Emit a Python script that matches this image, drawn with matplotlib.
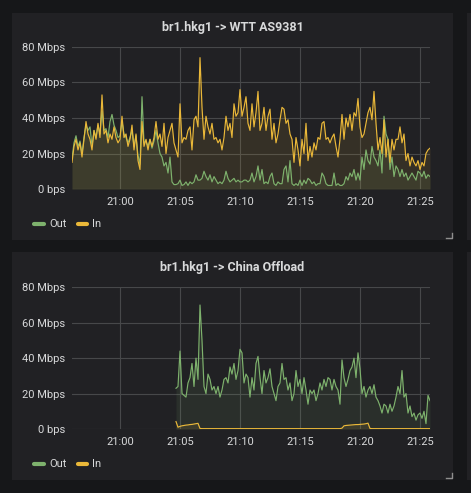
import numpy as np
import matplotlib
matplotlib.use("Agg")
import matplotlib.pyplot as plt
import matplotlib.dates as mdates
from matplotlib.patches import Rectangle
from matplotlib.lines import Line2D

# ---------------- data (Mbps, 10 s samples) ----------------
start1 = "2024-01-01T20:56:00"
out1 = [17, 26, 30, 24, 27, 20, 29, 36, 33, 35,
        24, 33, 29, 36, 31, 44, 33, 34, 29, 38,
        42, 36, 33, 29, 30, 38, 31, 29, 26, 29,
        33, 24, 30, 19, 14, 52, 26, 27, 24, 28,
        23, 27, 33, 26, 20, 18, 13, 15, 9, 18,
        4, 2.5, 2.5, 3, 5, 2, 2.5, 4, 2, 4,
        3, 4, 8, 5, 5, 6, 10, 7, 5, 8,
        4, 7, 5, 3, 4, 3, 5, 10, 6, 4,
        5, 6, 4, 5, 4, 4, 5, 5, 4, 5,
        9, 4, 7, 13, 5, 11, 3, 4, 3, 7,
        9, 3, 2, 4, 3, 3, 11, 13, 4, 16,
        3, 2, 3, 2, 5, 2, 5, 3, 6, 5,
        3, 4, 2, 3, 3, 9, 7, 3, 2, 2,
        2, 9, 2, 3, 2, 2, 3, 7, 5, 9,
        7, 11, 5, 9, 5, 18, 11, 22, 16, 14,
        24, 18, 16, 13, 22, 9, 41, 31, 28, 11,
        18, 7, 13, 11, 7, 11, 7, 9, 5, 7,
        9, 7, 5, 10, 9, 7, 10, 6, 8, 7]
in1 = [15, 24, 28, 22, 26, 18, 28, 38, 31, 28,
       22, 33, 28, 37, 29, 53, 31, 33, 26, 31,
       28, 35, 29, 26, 28, 41, 29, 31, 24, 28,
       36, 22, 31, 16, 11, 38, 24, 28, 22, 28,
       24, 29, 38, 28, 31, 24, 37, 20, 29, 33,
       37, 26, 22, 18, 48, 26, 29, 28, 33, 35,
       22, 39, 41, 35, 74, 46, 28, 41, 35, 31,
       37, 28, 29, 26, 28, 22, 29, 41, 33, 37,
       29, 48, 41, 43, 56, 41, 46, 52, 37, 33,
       48, 35, 43, 55, 33, 37, 46, 33, 41, 45,
       28, 37, 26, 31, 39, 46, 45, 37, 39, 31,
       28, 15, 29, 22, 13, 28, 20, 37, 16, 24,
       18, 26, 22, 29, 28, 37, 38, 28, 29, 26,
       29, 31, 24, 18, 28, 42, 28, 40, 35, 42,
       33, 43, 41, 51, 35, 29, 31, 37, 43, 46,
       39, 55, 37, 22, 29, 20, 39, 18, 28, 15,
       28, 22, 28, 28, 35, 26, 31, 16, 20, 13,
       18, 15, 13, 16, 11, 15, 13, 20, 22, 23]

start2 = "2024-01-01T21:04:40"
out2 = [23, 24, 44, 20, 19, 18, 26, 29, 37, 24,
        40, 28, 70, 50, 24, 20, 31, 28, 22, 24,
        20, 24, 18, 22, 28, 29, 26, 35, 31, 37,
        28, 33, 45, 43, 26, 31, 29, 18, 29, 22,
        37, 41, 29, 20, 33, 26, 29, 34, 24, 20,
        16, 24, 26, 37, 28, 29, 22, 26, 16, 20,
        33, 24, 28, 20, 29, 22, 14, 22, 20, 22,
        16, 20, 26, 22, 28, 24, 29, 28, 22, 28,
        24, 22, 14, 39, 29, 24, 28, 33, 35, 40,
        29, 43, 34, 20, 24, 18, 22, 24, 20, 25,
        18, 16, 13, 9, 14, 13, 9, 14, 10, 13,
        18, 24, 20, 33, 18, 20, 9, 13, 7, 9,
        5, 8, 9, 6, 10, 3, 19, 16]
in2 = [4.2, 1.0, 1.5, 1.8, 2.0, 2.2, 2.3, 2.5, 2.6, 2.8,
       3.0, 3.2, 0.3, 0.2, 0.2, 0.2, 0.2, 0.2, 0.2, 0.2,
       0.2, 0.2, 0.2, 0.2, 0.2, 0.2, 0.2, 0.2, 0.2, 0.2,
       0.2, 0.2, 0.2, 0.2, 0.2, 0.2, 0.2, 0.2, 0.2, 0.2,
       0.2, 0.2, 0.2, 0.2, 0.2, 0.2, 0.2, 0.2, 0.2, 0.2,
       0.2, 0.2, 0.2, 0.2, 0.2, 0.2, 0.2, 0.2, 0.2, 0.2,
       0.2, 0.2, 0.2, 0.2, 0.2, 0.2, 0.2, 0.2, 0.2, 0.2,
       0.2, 0.2, 0.2, 0.2, 0.2, 0.2, 0.2, 0.2, 0.2, 0.2,
       0.2, 0.2, 0.2, 0.5, 1.8, 2.0, 2.1, 2.2, 2.3, 2.4,
       2.5, 2.5, 2.6, 2.7, 2.8, 3.0, 3.3, 0.3, 0.2, 0.2,
       0.2, 0.2, 0.2, 0.2, 0.2, 0.2, 0.2, 0.2, 0.2, 0.2,
       0.2, 0.2, 0.2, 0.2, 0.2, 0.2, 0.2, 0.2, 0.2, 0.2,
       0.2, 0.2, 0.2, 0.2, 0.2, 0.2, 0.2, 0.2]

titles = ["br1.hkg1 -> WTT AS9381", "br1.hkg1 -> China Offload"]
series_names = ["Out", "In"]
ytick_vals = [0, 20, 40, 60, 80]
ytick_labels = ["0 bps", "20 Mbps", "40 Mbps", "60 Mbps", "80 Mbps"]
xtick_times = ["21:00", "21:05", "21:10", "21:15", "21:20", "21:25"]

# ---------------- style ----------------
BG = "#161719"
PANEL = "#212124"
GRID = "#47484a"
TEXT = "#d8d9da"
GREEN = "#7eb26d"
YELLOW = "#eab839"
FONT = ["Roboto", "DejaVu Sans"]
plt.rcParams["font.family"] = FONT

W, H, DPI = 471, 493, 100
fig = plt.figure(figsize=(W / DPI, H / DPI), dpi=DPI)
fig.patch.set_facecolor(BG)

def fx(px):
    return px / W

def fy(py):
    return 1 - py / H

# panel backgrounds
for (x0, y0, x1, y1) in [(12, 13, 453, 240), (12, 252, 453, 480),
                         (467, 13, 490, 240), (467, 252, 490, 480)]:
    fig.add_artist(Rectangle((fx(x0), fy(y1)), (x1 - x0) / W, (y1 - y0) / H,
                             transform=fig.transFigure, facecolor=PANEL,
                             edgecolor="none", zorder=0))

def times(start, n):
    return np.datetime64(start) + np.arange(n) * np.timedelta64(10, "s")

t1 = times(start1, len(out1))
t2o = times(start2, len(out2))
t2i = times(start2, len(in2))

xmin = np.datetime64(start1)
xmax = t1[-1]
xticks = [np.datetime64("2024-01-01T" + s + ":00") for s in xtick_times]

panels = [
    dict(top=47, bottom=189, title_y=28, legend_y=224,
         series=[(t1, out1, GREEN), (t1, in1, YELLOW)], title=titles[0],
         corner=(446, 452, 238, 233)),
    dict(top=287.3, bottom=429, title_y=268, legend_y=464,
         series=[(t2o, out2, GREEN), (t2i, in2, YELLOW)], title=titles[1],
         corner=(446, 452, 478, 473)),
]

for p in panels:
    ax = fig.add_axes([fx(72), fy(p["bottom"]), (430 - 72) / W,
                       (p["bottom"] - p["top"]) / H])
    ax.set_facecolor("none")
    for t, v, c in p["series"]:
        v = np.asarray(v, dtype=float)
        ax.fill_between(t, 0, v, color=c, alpha=0.1, linewidth=0)
        ax.plot(t, v, color=c, linewidth=0.85, solid_joinstyle="round")
    ax.set_xlim(xmin, xmax)
    ax.set_ylim(0, 80)
    ax.set_yticks(ytick_vals)
    ax.set_yticklabels(ytick_labels)
    ax.set_xticks(xticks)
    ax.xaxis.set_major_formatter(mdates.DateFormatter("%H:%M"))
    ax.grid(True, color=GRID, linewidth=0.8)
    ax.set_axisbelow(True)
    for s in ax.spines.values():
        s.set_visible(False)
    ax.tick_params(axis="both", length=0, colors=TEXT, labelsize=8)
    ax.tick_params(axis="y", pad=5)
    ax.tick_params(axis="x", pad=5.5)

    fig.text(fx(232.5), fy(p["title_y"]), p["title"], ha="center", va="center",
             color=TEXT, fontsize=9, fontweight="bold")

    ly = fy(p["legend_y"])
    for (x0, x1, tx, name, c) in [(34, 44, 49, series_names[0], GREEN),
                                  (78, 87, 92, series_names[1], YELLOW)]:
        fig.add_artist(Line2D([fx(x0), fx(x1)], [ly, ly], transform=fig.transFigure,
                              color=c, linewidth=3, solid_capstyle="round"))
        fig.text(fx(tx), ly, name, ha="left", va="center", color=TEXT, fontsize=8)

    cx0, cx1, cy0, cy1 = p["corner"]
    fig.add_artist(Line2D([fx(cx0), fx(cx1), fx(cx1)], [fy(cy0), fy(cy0), fy(cy1)],
                          transform=fig.transFigure, color="#8e8e8e", linewidth=1))

fig.savefig("out.png", dpi=DPI, facecolor=fig.get_facecolor())
